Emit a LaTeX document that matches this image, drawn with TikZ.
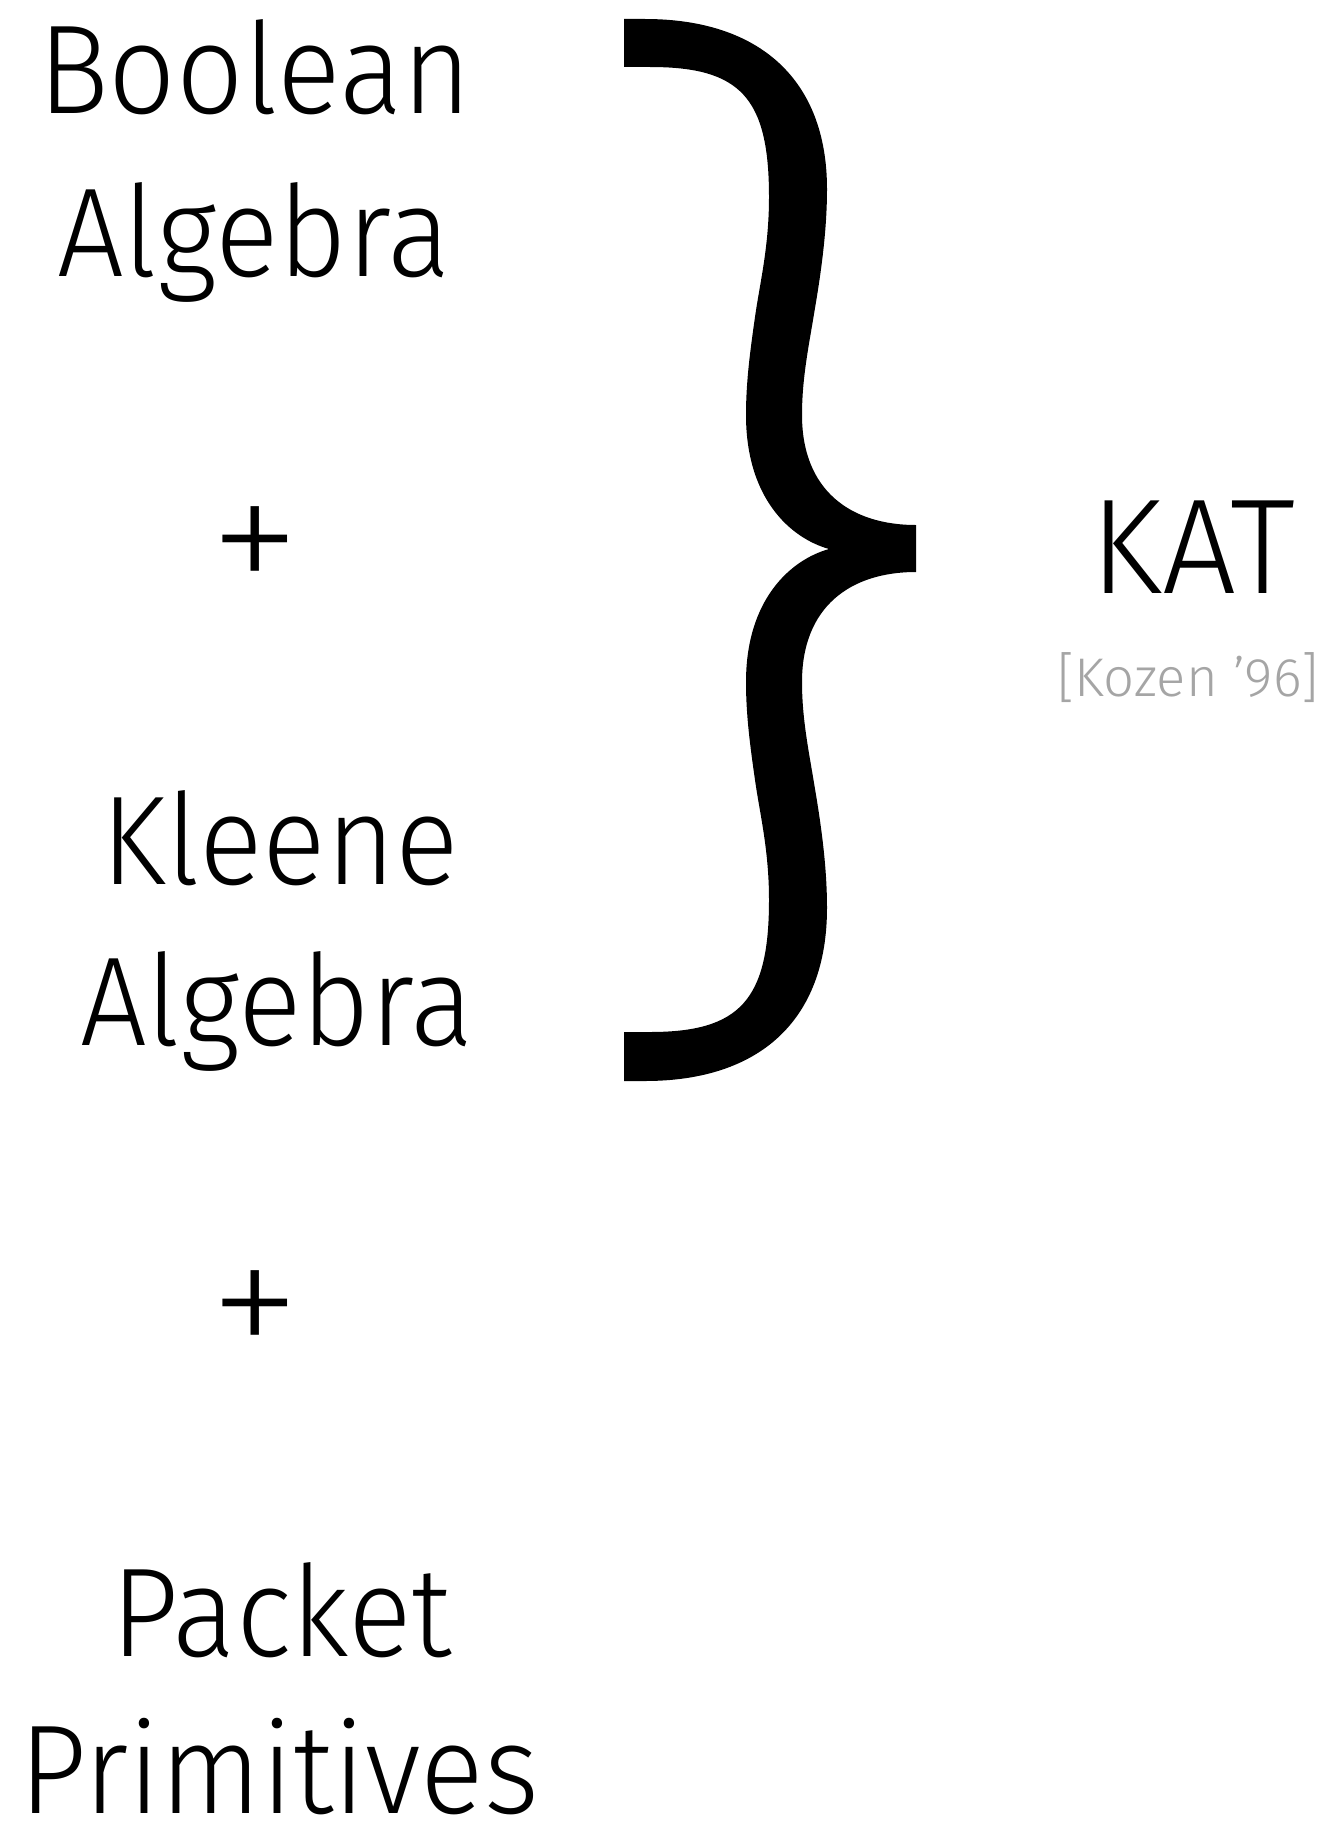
\documentclass[tikz,border=0pt]{standalone}
\usepackage{fontspec}
\setmainfont{Fira Sans Light}
\newfontfamily\narrowlight{Fira Sans Light}[FakeStretch=0.935]
\newfontfamily\katlight{Fira Sans Light}[FakeStretch=0.97]
\newfontfamily\pluslight{Fira Sans ExtraLight}
\definecolor{citegray}{RGB}{165,165,165}
\definecolor{bracek}{RGB}{0,0,0}

\begin{document}
\begin{tikzpicture}[x=0.02cm,y=-0.02cm,
    word/.style={anchor=base,inner sep=0pt,font=\narrowlight\fontsize{72}{72}\selectfont},
    plus/.style={anchor=center,inner sep=0pt,font=\pluslight\fontsize{106}{106}\selectfont},
    kat/.style={anchor=base,inner sep=0pt,font=\katlight\fontsize{77}{77}\selectfont},
    cite/.style={anchor=base,inner sep=0pt,text=citegray,font=\fontsize{31}{31}\selectfont}]
  \useasboundingbox (0,0) rectangle (1322,1825);
  \node[word] (bool)  at (255,113)  {Boolean};
  \node[word] (balg)  at (254,276)  {Algebra};
  \node[plus] (plusA) at (255,554)  {+};
  \node[word] (klee)  at (280,884)  {Kleene};
  \node[word] (kalg)  at (277,1045) {Algebra};
  \node[plus] (plusB) at (255,1318) {+};
  \node[word] (pack)  at (282,1656) {Packet};
  \node[word] (prim)  at (279,1813) {Primitives};
  \node[kat]  (kat)   at (1193,593) {KAT};
  \node[cite] (kozen) at (1188,696) {[Kozen ’96]};
  % the big brace
  \fill[bracek] (624,19) -- (645,19)
    .. controls (760,19) and (827,80) .. (827,189)
    .. controls (827,240) and (818,290) .. (813,320)
    .. controls (808,350) and (802,380) .. (802,415)
    .. controls (802,490) and (850,525) .. (916,525)
    -- (916,572)
    .. controls (850,572) and (802,607) .. (802,682)
    .. controls (802,717) and (808,747) .. (813,777)
    .. controls (818,807) and (827,857) .. (827,908)
    .. controls (827,1020) and (760,1081) .. (645,1081)
    -- (624,1081) -- (624,1032) -- (650,1032)
    .. controls (740,1032) and (769,1000) .. (769,900)
    .. controls (769,850) and (760,815) .. (755,780)
    .. controls (750,745) and (746,715) .. (746,682)
    .. controls (746,600) and (790,560) .. (829,549)
    .. controls (790,538) and (746,498) .. (746,415)
    .. controls (746,382) and (750,352) .. (755,317)
    .. controls (760,282) and (769,247) .. (769,197)
    .. controls (769,97) and (740,67) .. (650,67)
    -- (624,67) -- cycle;
\end{tikzpicture}
\end{document}
